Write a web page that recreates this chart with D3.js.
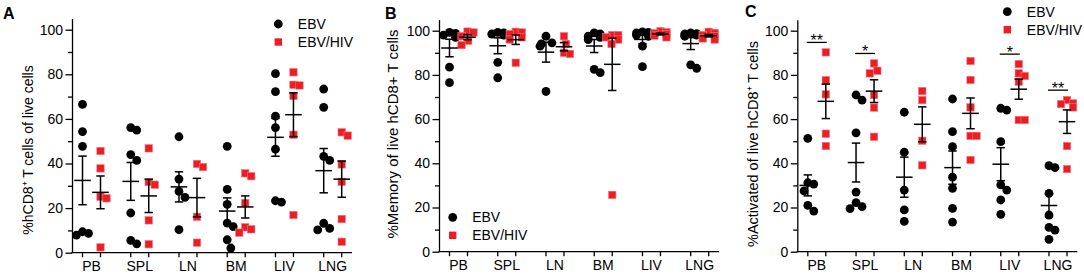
<!DOCTYPE html>
<html>
<head>
<meta charset="utf-8">
<script src="https://cdn.jsdelivr.net/npm/d3@7"></script>
<style>
  body { margin: 0; background: #fff; }
  svg { display: block; font-family: "Liberation Sans", Arial, sans-serif; }
</style>
</head>
<body>
<svg id="chart" width="1084" height="276"></svg>
<script>
/* global d3 */

var cats = ["PB", "SPL", "LN", "BM", "LIV", "LNG"]
  , groups = ["EBV", "EBV/HIV"]
  , majorTicks = [0, 20, 40, 60, 80, 100]
  , minorTicks = [10, 30, 50, 70, 90]
;

// A: %hCD8+ T cells of live cells
var liveEBV = [
  [66.5, 54.3, 47.7, 9.4, 8.7, 7.9],
  [56.1, 55.0, 44.0, 41.4, 17.8, 5.5, 4.0],
  [52.0, 33.0, 27.5, 24.8, 10.3],
  [47.7, 28.4, 21.7, 13.3, 11.7, 5.8, 2.1],
  [80.3, 72.2, 61.2, 56.1, 46.4, 23.3, 22.7],
  [73.4, 65.2, 43.2, 41.4, 13.2, 10.9, 10.2]
];
var liveHIV = [
  [45.6, 37.8, 25.1, 24.4, 2.4],
  [46.8, 31.7, 30.5, 14.5, 3.8],
  [39.8, 38.4, 16.1, 4.5],
  [35.6, 34.3, 22.3, 11.4, 10.5, 9.0],
  [80.9, 75.3, 75.0, 70.3, 52.9, 16.9],
  [54.0, 52.5, 39.6, 31.8, 15.1, 4.9]
];

// B: %Memory of live hCD8+ T cells
var memEBV = [
  [99.2, 98.8, 98.0, 97.0, 83.5, 76.5],
  [99.2, 99.0, 98.5, 98.0, 85.7, 78.7],
  [97.5, 94.5, 94.0, 93.0, 72.5],
  [99.0, 98.5, 97.5, 97.0, 96.0, 82.5, 81.0],
  [99.5, 99.2, 99.0, 98.5, 98.0, 97.5, 93.0, 83.7],
  [99.0, 98.7, 98.5, 98.0, 97.5, 84.5, 83.0]
];
var memHIV = [
  [99.6, 99.2, 97.5, 95.5, 93.5],
  [99.5, 99.2, 98.5, 97.0, 96.0, 85.5],
  [97.5, 94.0, 90.0, 89.5],
  [98.0, 98.0, 97.0, 96.0, 94.0, 25.7],
  [99.8, 99.3, 98.8, 98.3, 97.8, 97.0],
  [99.5, 99.0, 98.0, 97.5, 96.5, 96.0]
];

// C: %Activated of live hCD8+ T cells
var actEBV = [
  [51.3, 31.2, 30.6, 27.5, 21.0, 18.4],
  [70.9, 68.6, 53.8, 27.0, 22.2, 20.4, 19.5],
  [63.1, 45.0, 27.9, 18.9, 13.7],
  [69.1, 54.3, 47.5, 33.7, 28.7, 19.6, 13.4],
  [64.9, 64.1, 49.8, 30.2, 27.9, 23.4, 16.9],
  [38.9, 38.0, 26.4, 16.6, 11.0, 9.8, 5.6]
];
var actHIV = [
  [90.2, 77.6, 71.2, 53.4, 47.8],
  [85.2, 81.9, 80.7, 70.9, 65.2, 52.0],
  [72.7, 68.6, 50.2, 39.1],
  [86.3, 77.7, 65.3, 52.4, 52.4, 41.5],
  [84.9, 80.7, 79.5, 76.9, 59.6, 59.6],
  [68.6, 67.1, 66.8, 65.3, 47.8, 37.4]
];
var actSig = [
  { cat: "PB", label: "**" },
  { cat: "SPL", label: "*" },
  { cat: "LIV", label: "*" },
  { cat: "LNG", label: "**" }
];

var RED = "#ee1d25";

var panels = [
  { letter: "A", lx: 3, ly: 18.5, left: 72, y0: 252.7, y100: 29.7,
    title: "%hCD8\u207A T cells of live cells", tx: 28, ty: 150, tsize: 14,
    ebv: liveEBV, hiv: liveHIV, legend: [278.3, 24] },
  { letter: "B", lx: 385, ly: 18.5, left: 439, y0: 251.7, y100: 30.7,
    title: "%Memory of live hCD8+ T cells", tx: 392.5, ty: 134, tsize: 15,
    ebv: memEBV, hiv: memHIV, legend: [452.7, 217.3] },
  { letter: "C", lx: 745, ly: 17, left: 797.3, y0: 251.7, y100: 30.7,
    title: "%Activated of live hCD8\u207A T cells", tx: 753, ty: 144, tsize: 14.5,
    ebv: actEBV, hiv: actHIV, legend: [1007.3, 11.7], sig: actSig }
];

var svg = d3.select("#chart");

panels.forEach(drawPanel);

function drawPanel(p) {
  var g = svg.append("g")
    , y = d3.scaleLinear().domain([0, 100]).range([p.y0, p.y100])
    , yAxisScale = d3.scaleLinear().domain([0, 105]).range([p.y0, y(105)])
    , x = d3.scalePoint().domain(cats).range([p.left + 19.5, p.left + 260.7])
    , half = 9
  ;

  // panel letter
  g.append("text")
      .attr("x", p.lx).attr("y", p.ly)
      .style("font-size", "16px").style("font-weight", "bold")
      .text(p.letter);

  // y axis title
  g.append("text")
      .attr("transform", "translate(" + p.tx + "," + p.ty + ") rotate(-90)")
      .attr("text-anchor", "middle")
      .attr("dominant-baseline", "central")
      .style("font-size", p.tsize + "px")
      .text(p.title);

  // y axis, major then minor ticks
  var yg = g.append("g")
      .attr("transform", "translate(" + p.left + ",0)")
      .call(d3.axisLeft(yAxisScale)
          .tickValues(majorTicks).tickSize(6.5).tickSizeOuter(0).tickPadding(2.5));
  yg.selectAll("text").style("font-size", "14px").attr("fill", "#000")
      .style("font-family", "'Liberation Sans', Arial, sans-serif");
  g.append("g")
      .attr("transform", "translate(" + p.left + ",0)")
      .call(d3.axisLeft(yAxisScale)
          .tickValues(minorTicks).tickSize(4).tickFormat(""))
    .select(".domain").remove();
  g.selectAll(".domain, .tick line").attr("stroke", "#000").attr("stroke-width", 1.3);

  // x axis
  g.append("line")
      .attr("x1", p.left - 0.6).attr("x2", p.left + 280)
      .attr("y1", p.y0).attr("y2", p.y0)
      .attr("stroke", "#000").attr("stroke-width", 1.3);
  cats.forEach(function(c) {
    [-half, half].forEach(function(o) {
      g.append("line")
          .attr("x1", x(c) + o).attr("x2", x(c) + o)
          .attr("y1", p.y0).attr("y2", p.y0 + 4.5)
          .attr("stroke", "#000").attr("stroke-width", 1.3);
    });
    g.append("text")
        .attr("x", x(c)).attr("y", p.y0 + 18.5)
        .attr("text-anchor", "middle")
        .style("font-size", "14px")
        .text(c);
  });

  // points
  cats.forEach(function(c, i) {
    var cx = x(c) - half
      , hx = x(c) + half;

    dodge(p.ebv[i], y, 9, 6).forEach(function(d) {
      g.append("circle")
          .attr("cx", cx + d.dx).attr("cy", d.py).attr("r", 4.4)
          .attr("fill", "#000");
    });
    dodge(p.hiv[i], y, 8, 6).forEach(function(d) {
      g.append("rect")
          .attr("x", hx + d.dx - 3.7).attr("y", d.py - 3.7)
          .attr("width", 7.4).attr("height", 7.4)
          .attr("fill", RED).attr("stroke", "#f4777b").attr("stroke-width", 0.6);
    });

    errorBar(g, cx, p.ebv[i], y);
    errorBar(g, hx, p.hiv[i], y);
  });

  // significance brackets
  (p.sig || []).forEach(function(s) {
    var i = cats.indexOf(s.cat)
      , top = d3.max(p.ebv[i].concat(p.hiv[i])) + 4.5
      , ly = y(top);
    g.append("line")
        .attr("x1", x(s.cat) - half - 1).attr("x2", x(s.cat) + half + 1)
        .attr("y1", ly).attr("y2", ly)
        .attr("stroke", "#000").attr("stroke-width", 1.3);
    g.append("text")
        .attr("x", x(s.cat)).attr("y", ly + 4)
        .attr("text-anchor", "middle")
        .style("font-size", "16px")
        .text(s.label);
  });

  // legend
  var lx = p.legend[0], ly = p.legend[1];
  g.append("circle").attr("cx", lx).attr("cy", ly).attr("r", 4.4).attr("fill", "#000");
  g.append("rect").attr("x", lx - 3.7).attr("y", ly + 18 - 3.7)
      .attr("width", 7.4).attr("height", 7.4).attr("fill", RED);
  groups.forEach(function(name, k) {
    g.append("text")
        .attr("x", lx + 19.5).attr("y", ly + k * 18 + 5)
        .style("font-size", "14px")
        .text(name);
  });
}

// Mean with SEM whiskers
function errorBar(g, cx, vals, y) {
  var m = d3.mean(vals)
    , sem = d3.deviation(vals) / Math.sqrt(vals.length)
    , line = function(x1, x2, y1, y2) {
        g.append("line")
            .attr("x1", x1).attr("x2", x2).attr("y1", y1).attr("y2", y2)
            .attr("stroke", "#000").attr("stroke-width", 1.5);
      }
  ;
  line(cx - 8.3, cx + 8.3, y(m), y(m));
  line(cx, cx, y(m + sem), y(m - sem));
  line(cx - 4.2, cx + 4.2, y(m + sem), y(m + sem));
  line(cx - 4.2, cx + 4.2, y(m - sem), y(m - sem));
}

// Simple beeswarm: place each point nearest the column centre without
// overlapping points already placed; offsets are clamped to maxHalf.
function dodge(vals, y, minDist, maxHalf) {
  var pts = vals.map(function(v) { return { v: v, py: y(v), dx: 0 }; })
        .sort(function(a, b) { return a.py - b.py; })
    , placed = []
  ;
  pts.forEach(function(pt) {
    var cands = [0];
    placed.forEach(function(q) {
      var dy = Math.abs(q.py - pt.py);
      if (dy < minDist) {
        var dxx = Math.sqrt(minDist * minDist - dy * dy);
        cands.push(q.dx + dxx, q.dx - dxx);
      }
    });
    cands.sort(function(a, b) { return Math.abs(a) - Math.abs(b); });
    var best = cands.find(function(cx) {
      return placed.every(function(q) {
        var ddx = q.dx - cx, ddy = q.py - pt.py;
        return ddx * ddx + ddy * ddy >= minDist * minDist - 0.01;
      });
    });
    if (best === undefined) best = cands[cands.length - 1];
    pt.dx = Math.max(-maxHalf, Math.min(maxHalf, best));
    placed.push(pt);
  });
  return pts;
}
</script>
</body>
</html>
